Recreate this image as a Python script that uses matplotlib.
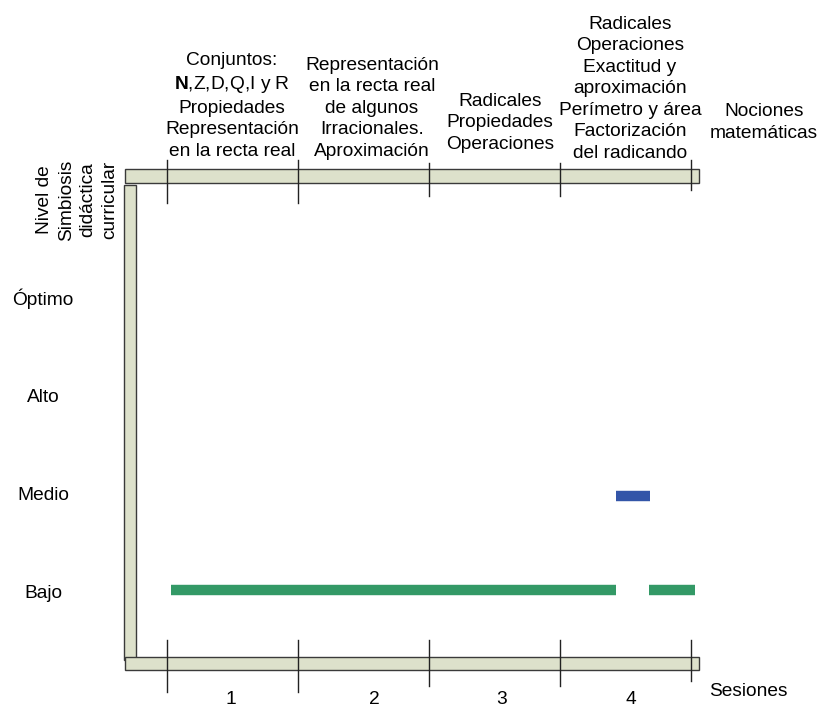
import matplotlib
matplotlib.use("Agg")
import matplotlib.pyplot as plt
from matplotlib.patches import Rectangle

plt.rcParams['font.family'] = ['Liberation Sans', 'DejaVu Sans']
plt.rcParams['mathtext.fontset'] = 'custom'
plt.rcParams['mathtext.rm'] = 'Liberation Sans'
plt.rcParams['mathtext.bf'] = 'Liberation Sans:bold'

# ---- data -------------------------------------------------------------
sessions = ["1", "2", "3", "4"]
levels = ["Bajo", "Medio", "Alto", "Óptimo"]          # level values 1..4
topics = [
    "Conjuntos:\n$\\mathbf{N}$,Z,D,Q,I y R\nPropiedades\nRepresentación\nen la recta real",
    "Representación\nen la recta real\nde algunos\nIrracionales.\nAproximación",
    "Radicales\nPropiedades\nOperaciones",
    "Radicales\nOperaciones\nExactitud y\naproximación\nPerímetro y área\nFactorización\ndel radicando",
]
# level segments: (start session, end session, level value)
bajo_segments = [(0.03, 3.43, 1.03), (3.68, 4.03, 1.03)]
medio_segments = [(3.43, 3.69, 1.99)]

GREEN = "#339966"
BLUE = "#3355a8"
FRAME_FILL = "#dde1cb"
FRAME_EDGE = "#3a3a3a"

W, H = 822, 709
fig = plt.figure(figsize=(W / 100, H / 100), dpi=100)
ax = fig.add_axes([0, 0, 1, 1])
ax.axis("off")

# session units: boundary ticks every 131 px starting at x=167
X0, XU = 167.0, 131.0
Y0, YU = 691.0, 98.0
ax.set_xlim((0 - X0) / XU, (W - X0) / XU)
ax.set_ylim((Y0 - H) / YU, Y0 / YU)


def px(x, y):
    """Pixel position -> data coordinates."""
    return (x - X0) / XU, (Y0 - y) / YU


def frame_bar(x1, y1, x2, y2):
    (a, b), (c, d) = px(x1, y2), px(x2, y1)
    ax.add_patch(Rectangle((a, b), c - a, d - b, facecolor=FRAME_FILL,
                           edgecolor=FRAME_EDGE, linewidth=1.0, zorder=2))


# frame bars
frame_bar(124, 185, 136, 660)
frame_bar(125, 169, 699, 183)
frame_bar(125, 657, 699, 670)

# session boundary ticks (top and bottom)
top_ext = [(160, 203), (160, 203), (163, 196), (163, 196), (160, 190)]
bot_ext = [(640, 692), (640, 692), (640, 686), (640, 686), (640, 681)]
for i in range(len(sessions) + 1):
    for (ya, yb) in (top_ext[i], bot_ext[i]):
        ax.plot([i, i], [px(0, ya)[1], px(0, yb)[1]], color="#222222",
                linewidth=1.0, zorder=3)

# level segments
for x1, x2, lv in bajo_segments:
    ax.plot([x1, x2], [lv, lv], color=GREEN, linewidth=7.5,
            solid_capstyle="butt", zorder=4)
for x1, x2, lv in medio_segments:
    ax.plot([x1, x2], [lv, lv], color=BLUE, linewidth=7.5,
            solid_capstyle="butt", zorder=4)

FS = 13.8
LS = 1.35
# level labels
for i, name in enumerate(levels):
    ax.text(px(43, 0)[0], i + 1, name, ha="center", va="center", fontsize=FS)

# session labels
sess_x = [231, 374, 502, 631]
for s, xp in zip(sessions, sess_x):
    ax.text(*px(xp, 700), s, ha="center", va="center", fontsize=FS)
ax.text(*px(709, 691), "Sesiones", ha="left", va="center", fontsize=FS)

# topic headers above the top bar
topic_x = [232, 372, 500, 630]
topic_bottom = [160, 160, 153, 162]
for t, xp, yb in zip(topics, topic_x, topic_bottom):
    ax.text(*px(xp, yb), t, ha="center", va="bottom", fontsize=FS,
            multialignment="center", linespacing=LS)
ax.text(*px(764, 142), "Nociones\nmatemáticas", ha="center", va="bottom",
        fontsize=FS, multialignment="center", linespacing=LS)

# y-axis title
ax.text(*px(77, 200), "Nivel de\nSimbiosis\ndidáctica\ncurricular",
        rotation=90, ha="center", va="center", fontsize=FS,
        multialignment="center", linespacing=LS)

fig.savefig("out.png", dpi=100)
